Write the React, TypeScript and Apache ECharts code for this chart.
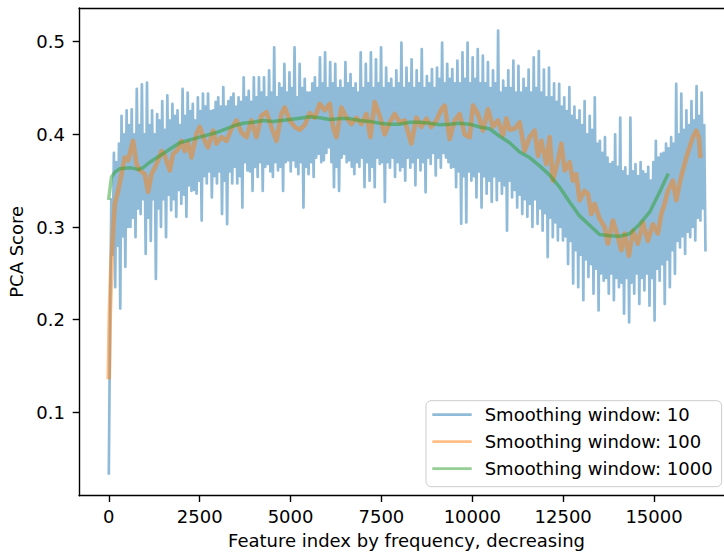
import React, { useEffect, useRef } from "react";
import * as echarts from "echarts";

const FONT = "DejaVu Sans";
const BLUE = "rgba(31,119,180,0.5)";
const ORANGE = "rgba(255,127,14,0.5)";
const GREEN = "rgba(44,160,44,0.5)";

const seriesNames = ["Smoothing window: 10", "Smoothing window: 100", "Smoothing window: 1000"];
const xTicks = [0, 2500, 5000, 7500, 10000, 12500, 15000];
const yTicks = [0.1, 0.2, 0.3, 0.4, 0.5];

// window-10 curve: values read at feature index 0, 35, 70, ... (spike tops and bottoms of the dense noisy line)
const blueStep = 35;
const window10 = [
  0.034, 0.2, 0.33, 0.27, 0.38, 0.235, 0.37, 0.28, 0.39, 0.212,
  0.42, 0.29, 0.4, 0.257, 0.426, 0.3, 0.41, 0.3, 0.427, 0.31,
  0.4, 0.289, 0.449, 0.32, 0.41, 0.314, 0.454, 0.33, 0.4, 0.271,
  0.456, 0.31, 0.41, 0.285, 0.426, 0.33, 0.4, 0.244, 0.422, 0.32,
  0.415, 0.3, 0.436, 0.33, 0.405, 0.289, 0.442, 0.335, 0.415, 0.318,
  0.433, 0.33, 0.42, 0.311, 0.426, 0.34, 0.41, 0.325, 0.449, 0.335,
  0.42, 0.311, 0.445, 0.345, 0.425, 0.339, 0.433, 0.34, 0.415, 0.336,
  0.44, 0.35, 0.425, 0.307, 0.444, 0.355, 0.43, 0.347, 0.444, 0.36,
  0.425, 0.332, 0.426, 0.355, 0.435, 0.347, 0.44, 0.36, 0.43, 0.314,
  0.451, 0.35, 0.43, 0.303, 0.436, 0.36, 0.44, 0.347, 0.444, 0.365,
  0.43, 0.347, 0.44, 0.355, 0.435, 0.321, 0.4615, 0.37, 0.44, 0.361,
  0.447, 0.36, 0.435, 0.339, 0.4615, 0.365, 0.44, 0.354, 0.4615, 0.37,
  0.445, 0.339, 0.4615, 0.365, 0.44, 0.368, 0.469, 0.36, 0.445, 0.354,
  0.494, 0.37, 0.44, 0.361, 0.455, 0.365, 0.45, 0.339, 0.476, 0.37,
  0.445, 0.372, 0.467, 0.36, 0.45, 0.372, 0.494, 0.365, 0.44, 0.357,
  0.476, 0.37, 0.45, 0.321, 0.46, 0.365, 0.445, 0.357, 0.445, 0.37,
  0.455, 0.354, 0.4615, 0.375, 0.45, 0.379, 0.483, 0.37, 0.455, 0.372,
  0.4885, 0.38, 0.45, 0.386, 0.478, 0.37, 0.455, 0.343, 0.476, 0.365,
  0.45, 0.339, 0.458, 0.375, 0.45, 0.379, 0.478, 0.37, 0.455, 0.372,
  0.465, 0.365, 0.45, 0.357, 0.455, 0.37, 0.445, 0.365, 0.4885, 0.375,
  0.45, 0.343, 0.476, 0.37, 0.455, 0.35, 0.4885, 0.365, 0.45, 0.343,
  0.481, 0.375, 0.455, 0.368, 0.494, 0.37, 0.45, 0.327, 0.472, 0.37,
  0.455, 0.364, 0.46, 0.375, 0.45, 0.354, 0.469, 0.37, 0.455, 0.361,
  0.499, 0.365, 0.45, 0.35, 0.472, 0.375, 0.455, 0.364, 0.481, 0.37,
  0.45, 0.345, 0.469, 0.375, 0.455, 0.361, 0.492, 0.37, 0.45, 0.3375,
  0.463, 0.375, 0.455, 0.368, 0.4705, 0.38, 0.45, 0.3555, 0.472, 0.375,
  0.46, 0.364, 0.499, 0.38, 0.455, 0.375, 0.476, 0.37, 0.46, 0.364,
  0.4705, 0.365, 0.455, 0.343, 0.4795, 0.36, 0.455, 0.3035, 0.4885, 0.355,
  0.46, 0.305, 0.499, 0.36, 0.455, 0.35, 0.483, 0.355, 0.46, 0.332,
  0.492, 0.36, 0.455, 0.321, 0.485, 0.355, 0.455, 0.336, 0.478, 0.35,
  0.45, 0.327, 0.469, 0.355, 0.455, 0.329, 0.512, 0.35, 0.445, 0.336,
  0.458, 0.345, 0.45, 0.296, 0.469, 0.35, 0.45, 0.332, 0.4795, 0.34,
  0.445, 0.321, 0.474, 0.335, 0.445, 0.314, 0.46, 0.33, 0.45, 0.311,
  0.47, 0.325, 0.445, 0.3, 0.483, 0.33, 0.45, 0.3035, 0.49, 0.32,
  0.445, 0.296, 0.47, 0.315, 0.44, 0.2675, 0.472, 0.31, 0.44, 0.289,
  0.455, 0.305, 0.435, 0.2855, 0.4545, 0.3, 0.43, 0.2855, 0.44, 0.29,
  0.425, 0.26, 0.451, 0.285, 0.42, 0.239, 0.43, 0.275, 0.415, 0.235,
  0.426, 0.27, 0.41, 0.221, 0.436, 0.265, 0.4, 0.246, 0.42, 0.26,
  0.405, 0.228, 0.44, 0.255, 0.39, 0.21, 0.393, 0.25, 0.38, 0.242,
  0.397, 0.245, 0.375, 0.228, 0.368, 0.25, 0.37, 0.221, 0.4, 0.245,
  0.365, 0.235, 0.418, 0.24, 0.36, 0.2065, 0.3645, 0.245, 0.355, 0.197,
  0.418, 0.24, 0.36, 0.228, 0.368, 0.25, 0.355, 0.217, 0.37, 0.245,
  0.36, 0.2315, 0.357, 0.25, 0.365, 0.215, 0.35, 0.245, 0.37, 0.199,
  0.393, 0.255, 0.375, 0.242, 0.379, 0.26, 0.38, 0.217, 0.39, 0.265,
  0.385, 0.235, 0.397, 0.275, 0.39, 0.2495, 0.4545, 0.285, 0.4, 0.278,
  0.444, 0.29, 0.405, 0.271, 0.426, 0.295, 0.41, 0.289, 0.436, 0.3,
  0.415, 0.2855, 0.452, 0.31, 0.42, 0.307, 0.445, 0.32, 0.41, 0.275,
];

// window-100 curve: [feature index, score]
const window100: [number, number][] = [
  [0, 0.138], [28, 0.207], [74, 0.264], [118, 0.296], [165, 0.325], [256, 0.339],
  [349, 0.357], [440, 0.375], [531, 0.372], [668, 0.393], [762, 0.368], [853, 0.361],
  [990, 0.357], [1081, 0.338], [1174, 0.357], [1265, 0.364], [1356, 0.372], [1449, 0.382],
  [1540, 0.377], [1678, 0.361], [1768, 0.379], [1906, 0.384], [1999, 0.393], [2090, 0.382],
  [2181, 0.391], [2274, 0.375], [2412, 0.4005], [2503, 0.408], [2640, 0.393], [2731, 0.386],
  [2868, 0.404], [2959, 0.39], [3099, 0.397], [3237, 0.393], [3374, 0.406], [3512, 0.415],
  [3649, 0.402], [3787, 0.397], [3924, 0.415], [4062, 0.397], [4199, 0.42], [4337, 0.424],
  [4474, 0.408], [4612, 0.393], [4749, 0.422], [4840, 0.429], [4978, 0.415], [5115, 0.408],
  [5253, 0.405], [5390, 0.41], [5528, 0.423], [5665, 0.418], [5803, 0.433], [5940, 0.426],
  [6078, 0.433], [6168, 0.408], [6262, 0.397], [6399, 0.429], [6537, 0.418], [6674, 0.411],
  [6812, 0.418], [6949, 0.411], [7087, 0.422], [7197, 0.397], [7315, 0.435], [7453, 0.42],
  [7590, 0.4], [7728, 0.413], [7865, 0.422], [8003, 0.413], [8140, 0.415], [8324, 0.39],
  [8462, 0.418], [8599, 0.408], [8737, 0.417], [8874, 0.408], [9012, 0.415], [9149, 0.427],
  [9240, 0.431], [9378, 0.395], [9515, 0.415], [9653, 0.422], [9790, 0.4], [9928, 0.397],
  [10018, 0.431], [10156, 0.422], [10293, 0.404], [10431, 0.427], [10568, 0.408], [10706, 0.415],
  [10843, 0.399], [10937, 0.417], [11028, 0.405], [11165, 0.406], [11303, 0.413], [11440, 0.382],
  [11578, 0.397], [11715, 0.404], [11806, 0.377], [11899, 0.393], [12037, 0.368], [12128, 0.397],
  [12218, 0.35], [12356, 0.372], [12449, 0.39], [12540, 0.361], [12678, 0.37], [12768, 0.35],
  [12859, 0.357], [12953, 0.329], [13090, 0.339], [13181, 0.336], [13274, 0.314], [13365, 0.325],
  [13503, 0.309], [13640, 0.3], [13731, 0.282], [13868, 0.307], [14006, 0.289], [14099, 0.275],
  [14190, 0.293], [14308, 0.269], [14418, 0.296], [14556, 0.282], [14693, 0.305], [14831, 0.285],
  [14968, 0.303], [15106, 0.293], [15199, 0.314], [15290, 0.325], [15381, 0.339], [15518, 0.35],
  [15612, 0.329], [15703, 0.347], [15793, 0.361], [15887, 0.375], [15978, 0.386], [16068, 0.397],
  [16162, 0.404], [16234, 0.397], [16272, 0.377],
];

// window-1000 curve: [feature index, score]
const window1000: [number, number][] = [
  [0, 0.331], [74, 0.354], [165, 0.359], [302, 0.363], [577, 0.364], [715, 0.363],
  [806, 0.362], [943, 0.364], [1127, 0.37], [1402, 0.377], [1677, 0.384], [1952, 0.391],
  [2227, 0.394], [2502, 0.397], [2962, 0.402], [3418, 0.409], [3693, 0.412], [3968, 0.413],
  [4243, 0.415], [4518, 0.414], [4978, 0.416], [5252, 0.4175], [5527, 0.419], [5802, 0.418],
  [6078, 0.416], [6352, 0.417], [6628, 0.417], [6902, 0.415], [7178, 0.414], [7452, 0.412],
  [7728, 0.411], [8002, 0.411], [8278, 0.413], [8552, 0.413], [8828, 0.412], [9102, 0.4105],
  [9378, 0.411], [9652, 0.412], [9928, 0.411], [10202, 0.408], [10478, 0.406], [10752, 0.398],
  [11028, 0.391], [11302, 0.381], [11578, 0.375], [11852, 0.366], [12128, 0.356], [12402, 0.343],
  [12678, 0.327], [12952, 0.312], [13228, 0.302], [13502, 0.292], [13778, 0.2905], [14052, 0.29],
  [14328, 0.2927], [14602, 0.303], [14878, 0.316], [15152, 0.3375], [15372, 0.356],
];

const textBase = { fontFamily: FONT, fontSize: 18, color: "#000" };

export default function App() {
  const ref = useRef<HTMLDivElement>(null);
  useEffect(() => {
    const chart = echarts.init(ref.current as HTMLDivElement, null, { renderer: "svg" });
    const lineCommon = {
      type: "line",
      showSymbol: false,
      symbol: "none",
      silent: true,
      emphasis: { disabled: true },
      clip: true,
    };
    chart.setOption({
      animation: false,
      backgroundColor: "#ffffff",
      textStyle: { fontFamily: FONT },
      grid: { left: 79, top: 8, right: -10, bottom: 60.3, outerBoundsMode: "none" },
      legend: {
        data: seriesNames,
        orient: "vertical",
        left: 426,
        top: 400.7,
        padding: [5, 9, 9, 6.3],
        itemGap: 9,
        itemWidth: 39.4,
        itemHeight: 2.7,
        icon: "rect",
        selectedMode: false,
        backgroundColor: "rgba(255,255,255,0.8)",
        borderColor: "#cccccc",
        borderWidth: 1,
        borderRadius: 5,
        textStyle: { ...textBase, lineHeight: 18, padding: [0, 0, 0, 8] },
      },
      xAxis: [
        {
          type: "value",
          min: -820,
          max: 17200,
          position: "bottom",
          axisLine: { show: true, onZero: false, lineStyle: { color: "#000", width: 1.4 } },
          axisTick: { show: true, inside: false, length: 6.3, customValues: xTicks, lineStyle: { color: "#000", width: 1.4 } },
          axisLabel: { ...textBase, margin: 12, customValues: xTicks, formatter: (v: number) => String(v) },
          splitLine: { show: false },
          name: "Feature index by frequency, decreasing",
          nameLocation: "middle",
          nameGap: 36,
          nameTextStyle: { ...textBase, lineHeight: 18 },
        },
        {
          type: "value",
          min: -820,
          max: 17200,
          position: "top",
          axisLine: { show: true, onZero: false, lineStyle: { color: "#000", width: 1.4 } },
          axisTick: { show: false },
          axisLabel: { show: false },
          splitLine: { show: false },
        },
      ],
      yAxis: {
        type: "value",
        min: 0.01,
        max: 0.5364,
        axisLine: { show: true, onZero: false, lineStyle: { color: "#000", width: 1.4 } },
        axisTick: { show: true, inside: false, length: 6.3, customValues: yTicks, lineStyle: { color: "#000", width: 1.4 } },
        axisLabel: { ...textBase, margin: 14, customValues: yTicks, formatter: (v: number) => v.toFixed(1) },
        splitLine: { show: false },
        name: "PCA Score",
        nameLocation: "middle",
        nameRotate: 90,
        nameGap: 50,
        nameTextStyle: { ...textBase, lineHeight: 18 },
      },
      series: [
        {
          ...lineCommon,
          name: seriesNames[0],
          data: window10.map((y, i) => [i * blueStep, y]),
          lineStyle: { color: BLUE, width: 2.7, join: "round", cap: "square" },
          itemStyle: { color: BLUE },
        },
        {
          ...lineCommon,
          name: seriesNames[1],
          data: window100,
          lineStyle: { color: ORANGE, width: 4.6, join: "round", cap: "square" },
          itemStyle: { color: ORANGE },
        },
        {
          ...lineCommon,
          name: seriesNames[2],
          data: window1000,
          lineStyle: { color: GREEN, width: 3.5, join: "round", cap: "square" },
          itemStyle: { color: GREEN },
        },
      ],
    });
    return () => chart.dispose();
  }, []);
  return (
    <div
      ref={ref}
      style={{ position: "absolute", left: 0, top: 0, width: 724, height: 556, background: "#fff" }}
    />
  );
}
